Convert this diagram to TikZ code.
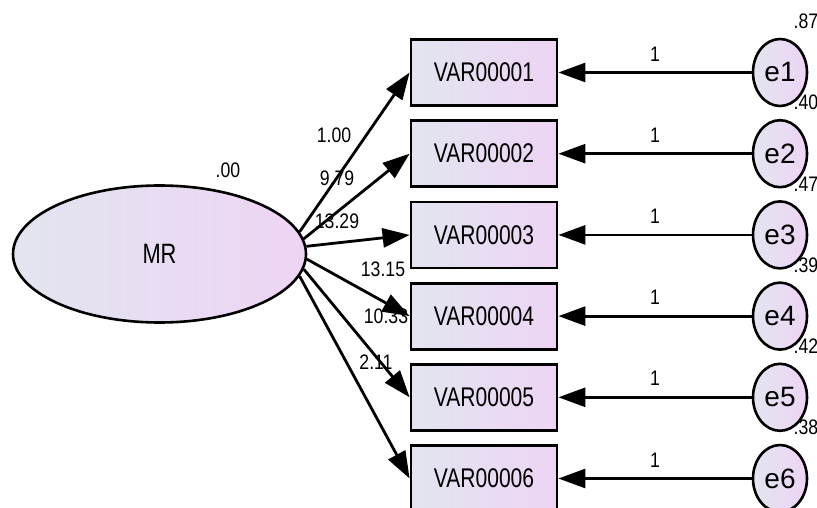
\documentclass[tikz,border=0pt]{standalone}
\usepackage{fontspec}
\setmainfont{Liberation Sans}[FakeStretch=0.84]
\newfontfamily\bigfont{Liberation Sans}[FakeStretch=0.78]
\newfontfamily\errfont{Liberation Sans}
\usepackage{tikz}
\usetikzlibrary{arrows.meta,shapes.geometric,positioning}
\definecolor{amosleft}{RGB}{226,229,240}
\definecolor{amosright}{RGB}{238,212,244}
\tikzset{
	latent/.style={ellipse, draw, line width=2.6pt, left color=amosleft, right color=amosright, inner sep=0pt, font=\bigfont\fontsize{28}{28}\selectfont},
	observed/.style={rectangle, draw, line width=2.8pt, left color=amosleft, right color=amosright, minimum width=146pt, minimum height=66pt, inner sep=0pt, font=\bigfont\fontsize{27}{27}\selectfont},
	errterm/.style={ellipse, draw, line width=2.6pt, left color=amosleft, right color=amosright, minimum width=54pt, minimum height=67pt, inner sep=0pt, font=\errfont\fontsize{28}{28}\selectfont},
	regpath/.style={line width=2.8pt, -{Triangle[length=27pt,width=19pt]}},
	est/.style={font=\fontsize{21}{21}\selectfont, inner sep=0pt}
}
\begin{document}
\begin{tikzpicture}[x=1pt, y=-1pt]
	\useasboundingbox (0,0) rectangle (817,508);
	\clip (0,0) rectangle (817,508);

%latent
	\node[latent, minimum width=293pt, minimum height=137pt] (MR) at (159.5,254) {MR};
	\node[est] (vMR) at (228,170) {.00};

%observed, errors
	\foreach \i/\v in {1/.87, 2/.40, 3/.47, 4/.39, 5/.42, 6/.38}{
		\pgfmathsetmacro\y{72.5+81.2*(\i-1)}
		\node[observed] (V\i) at (484,\y) {VAR0000\i};
		\node[errterm] (e\i) at (780,\y) {e\i};
		\node[est] (ve\i) at (806,\y-51) {\v};
		\draw[regpath] (e\i) -- node[est, above=10pt] (one\i) {1} (V\i);
	}

%loadings
	\foreach \i/\a/\w/\xy in {1/9/1.00/{(334,135)}, 2/6/9.79/{(337,178)}, 3/3/13.29/{(337,221)}, 4/358/13.15/{(383,269)}, 5/354/10.33/{(386,316)}, 6/351/2.11/{(376,362)}}{
		\draw[regpath] (MR.\a) -- (V\i.west);
		\node[est] (w\i) at \xy {\w};
	}
\end{tikzpicture}
\end{document}
